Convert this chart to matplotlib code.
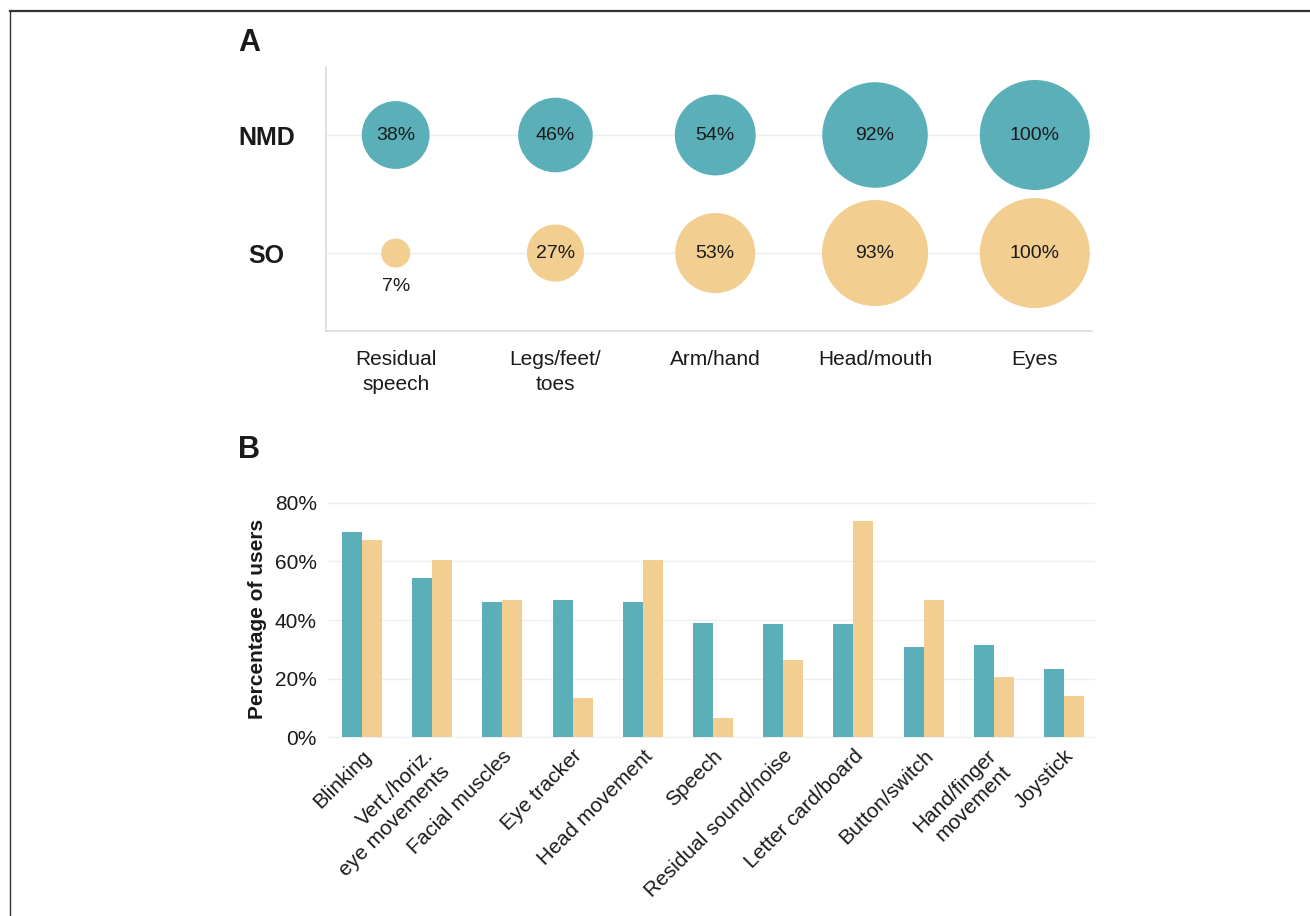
import matplotlib
matplotlib.use("Agg")
import matplotlib.pyplot as plt
from matplotlib.lines import Line2D
from matplotlib.transforms import ScaledTranslation
import numpy as np

plt.rcParams['font.family'] = ['Liberation Sans', 'DejaVu Sans']

# ---------------- data ----------------
groups = ["NMD", "SO"]
body_parts = ["Residual\nspeech", "Legs/feet/\ntoes", "Arm/hand", "Head/mouth", "Eyes"]
nmd_body = [38, 46, 54, 92, 100]
so_body = [7, 27, 53, 93, 100]

methods = ["Blinking", "Vert./horiz.\neye movements", "Facial muscles", "Eye tracker",
           "Head movement", "Speech", "Residual sound/noise", "Letter card/board",
           "Button/switch", "Hand/finger\nmovement", "Joystick"]
nmd_methods = [70.2, 54.5, 46.3, 47.0, 46.3, 39.1, 38.8, 38.8, 30.9, 31.3, 23.4]
so_methods = [67.5, 60.6, 47.0, 13.5, 60.6, 6.7, 26.5, 73.9, 47.0, 20.4, 13.9]
yticks_b = [0, 20, 40, 60, 80]

teal = "#5AAFB8"
tan = "#F2CE90"
txt = "#1a1a1a"
grid_c = "#ECEFEF"

fig = plt.figure(figsize=(13.1, 9.16), dpi=100)

# ---------------- panel A ----------------
axA = fig.add_axes([326/1310, 1-331/916, (1092-326)/1310, (331-67)/916])
x = np.arange(len(body_parts))
ymap = {"NMD": 1, "SO": 0}
full_d_pt = 110 * 72 / 100.0
for g, vals, col in [("NMD", nmd_body, teal), ("SO", so_body, tan)]:
    yy = np.full(len(vals), ymap[g])
    sizes = [(full_d_pt ** 2) * v / 100.0 for v in vals]
    axA.scatter(x, yy, s=sizes, color=col, edgecolors='none', zorder=3)
    for xi, v in zip(x, vals):
        if v < 15:
            axA.annotate(f"{v}%", (xi, ymap[g]), xytext=(0, -24), textcoords='offset points',
                         ha='center', va='center', fontsize=14, color=txt, zorder=4)
        else:
            axA.text(xi, ymap[g], f"{v}%", ha='center', va='center', fontsize=14,
                     color=txt, zorder=4)
axA.set_xlim(-0.436, 4.358)
axA.set_ylim(-0.66, 1.576)
axA.set_yticks([ymap[g] for g in groups])
axA.set_yticklabels(groups, fontsize=18, fontweight='bold', color=txt, ha='center')
axA.tick_params(axis='y', length=0, pad=43)
axA.set_xticks(x)
axA.set_xticklabels(body_parts, fontsize=15, color=txt, linespacing=1.35)
axA.tick_params(axis='x', length=0, pad=14)
axA.grid(axis='y', color=grid_c, linewidth=1)
axA.set_axisbelow(True)
for s in ['top', 'right']:
    axA.spines[s].set_visible(False)
for s in ['left', 'bottom']:
    axA.spines[s].set_color('#DADDDD')
    axA.spines[s].set_linewidth(1.2)

fig.text(238/1310, 1-43/916, "A", fontsize=22, fontweight='bold', color=txt, va='center', ha='left')

# ---------------- panel B ----------------
axB = fig.add_axes([328/1310, 1-738/916, (1095-328)/1310, (738-500)/916])
xb = np.arange(len(methods))
w = 0.285
axB.bar(xb - w/2, nmd_methods, width=w, color=teal, zorder=3)
axB.bar(xb + w/2, so_methods, width=w, color=tan, zorder=3)
axB.set_xlim(-0.484, 10.44)
axB.set_ylim(-0.3, 81)
axB.set_yticks(yticks_b)
axB.set_yticklabels([f"{t}%" for t in yticks_b], fontsize=15, color=txt)
axB.tick_params(axis='y', length=0, pad=8)
axB.set_xticks(xb)
axB.set_xticklabels(methods, fontsize=15, color=txt, rotation=45, ha='right', va='top',
                    rotation_mode='anchor', linespacing=1.2)
axB.tick_params(axis='x', length=0, pad=6)
for lab in axB.get_xticklabels():
    if "\n" in lab.get_text():
        lab.set_transform(lab.get_transform() + ScaledTranslation(-0.08, 0, fig.dpi_scale_trans))
axB.grid(axis='y', color=grid_c, linewidth=1)
axB.set_axisbelow(True)
for s in axB.spines.values():
    s.set_visible(False)
axB.set_ylabel("Percentage of users", fontsize=15, fontweight='bold', color=txt, labelpad=6)

fig.text(238/1310, 1-450/916, "B", fontsize=22, fontweight='bold', color=txt, va='center', ha='left')

# ---------------- frame ----------------
fig.add_artist(Line2D([9.5/1310, 1.0], [1-10.5/916, 1-10.5/916], color='#333333', linewidth=1.6,
                      transform=fig.transFigure))
fig.add_artist(Line2D([9.5/1310, 9.5/1310], [1-10.5/916, 0.0], color='#333333', linewidth=1.0,
                      transform=fig.transFigure))

fig.savefig("out.png", dpi=100)
